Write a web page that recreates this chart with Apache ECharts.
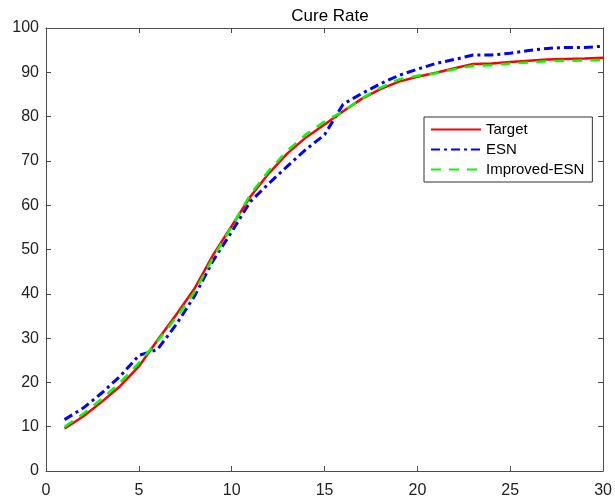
<!DOCTYPE html>
<html>
<head>
<meta charset="utf-8">
<script src="https://cdn.jsdelivr.net/npm/echarts@6/dist/echarts.min.js"></script>
<style>
  html, body { margin: 0; padding: 0; background: #fff; }
  #chart { width: 615px; height: 499px; }
</style>
</head>
<body>
<div id="chart"></div>
<script>
var days = [];
for (var d = 1; d <= 30; d++) days.push(d);

var target = [9.6, 12.3, 15.6, 19.2, 23.6, 29.5, 35.2, 41.2, 48.8, 55.3,
    61.9, 67.2, 71.7, 75.3, 78.2, 81.2, 84.0, 86.2, 87.9, 89.0,
    89.9, 90.9, 91.9, 92.0, 92.3, 92.6, 92.9, 93.0, 93.1, 93.3];
var esn = [11.6, 14.2, 17.6, 21.4, 26.1, 27.4, 33.0, 39.5, 47.5, 54.0,
    60.8, 64.9, 68.8, 72.6, 75.9, 82.8, 85.2, 87.4, 89.3, 90.7,
    92.0, 92.9, 93.9, 93.9, 94.3, 94.9, 95.4, 95.6, 95.6, 95.9];
var improved = [10.0, 12.9, 16.3, 20.0, 24.4, 29.3, 34.6, 40.4, 48.2, 55.2,
    62.4, 67.8, 72.3, 76.0, 78.9, 81.2, 84.1, 86.5, 88.4, 89.2,
    89.8, 90.7, 91.5, 91.6, 92.0, 92.2, 92.5, 92.6, 92.7, 92.8];

function pairs(vals) {
    return days.map(function (x, i) { return [x, vals[i]]; });
}

var axisColor = '#4d4d4d';
var fontFamily = 'Liberation Sans, Arial, sans-serif';

function frameAxis(extra) {
    var a = {
        type: 'value',
        axisLine: { show: true, onZero: false, lineStyle: { color: axisColor } },
        axisTick: { show: true, inside: true, length: 5, lineStyle: { color: axisColor } },
        axisLabel: { show: false },
        splitLine: { show: false }
    };
    for (var k in extra) a[k] = extra[k];
    return a;
}

var myChart = echarts.init(document.getElementById('chart'));
var option = {
    backgroundColor: '#fff',
    animation: false,
    title: {
        text: 'Cure Rate',
        left: 325,
        top: 3,
        textAlign: 'center',
        textStyle: { fontFamily: fontFamily, fontWeight: 'normal', fontSize: 17, color: '#000' }
    },
    grid: { left: 46, right: 10, top: 28, bottom: 28 },
    legend: {
        orient: 'vertical',
        left: 424,
        top: 117,
        itemWidth: 50,
        itemHeight: 10,
        itemGap: 5,
        padding: [5, 8, 5, 6],
        borderColor: '#333',
        borderWidth: 1,
        backgroundColor: '#fff',
        itemStyle: { opacity: 0 },
        textStyle: { fontFamily: fontFamily, fontSize: 15, color: '#000' },
        data: ['Target', 'ESN', 'Improved-ESN']
    },
    xAxis: [
        frameAxis({
            min: 0, max: 30, interval: 5,
            axisLabel: { show: true, color: '#222', fontFamily: fontFamily, fontSize: 16, margin: 12 }
        }),
        frameAxis({ position: 'top', min: 0, max: 30, interval: 5 })
    ],
    yAxis: [
        frameAxis({
            min: 0, max: 100, interval: 10,
            axisLabel: { show: true, color: '#222', fontFamily: fontFamily, fontSize: 16, margin: 7 }
        }),
        frameAxis({ position: 'right', min: 0, max: 100, interval: 10 })
    ],
    series: [
        {
            name: 'Target',
            type: 'line',
            symbol: 'none',
            data: pairs(target),
            itemStyle: { color: '#ff0000' },
            lineStyle: { color: '#ff0000', width: 2.5 },
            z: 3
        },
        {
            name: 'ESN',
            type: 'line',
            symbol: 'none',
            data: pairs(esn),
            itemStyle: { color: '#0000ff' },
            lineStyle: { color: '#0000ff', width: 3, type: [9, 4, 3, 4] },
            z: 2
        },
        {
            name: 'Improved-ESN',
            type: 'line',
            symbol: 'none',
            data: pairs(improved),
            itemStyle: { color: '#00ff00' },
            lineStyle: { color: '#00ff00', width: 2.5, type: [10, 8] },
            z: 4
        }
    ]
};
myChart.setOption(option);
</script>
</body>
</html>
